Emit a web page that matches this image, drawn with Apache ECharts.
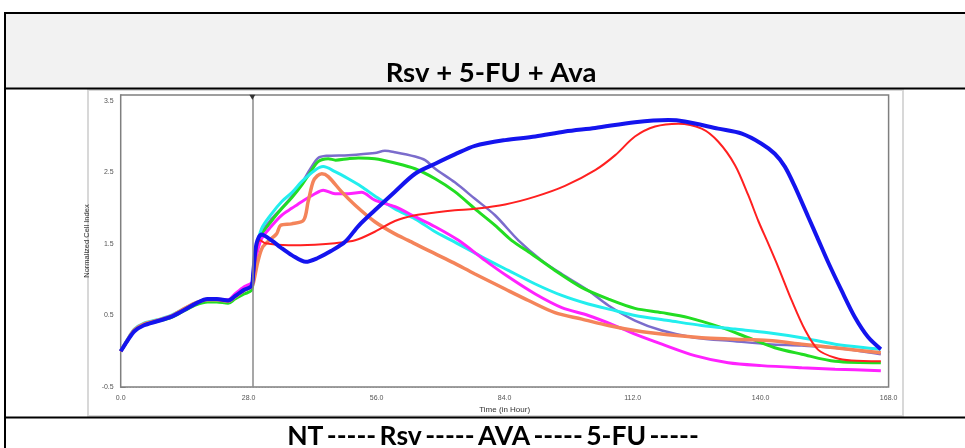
<!DOCTYPE html>
<html>
<head>
<meta charset="utf-8">
<script src="https://cdn.jsdelivr.net/npm/echarts/dist/echarts.min.js"></script>
<style>
html,body{margin:0;padding:0;background:#fff;}
#chart{width:965px;height:448px;}
</style>
</head>
<body>
<div id="chart"></div>
<script>
// ---------- data (Time in hours, Normalized Cell Index) ----------
const titleText = 'Rsv + 5-FU + Ava';
const xTickLabels = ['0.0','28.0','56.0','84.0','112.0','140.0','168.0'];
const yTickLabels = ['-0.5','0.5','1.5','2.5','3.5'];
const treatmentTime = 28.8;
const legendItems = ['NT','Rsv','AVA','5-FU'];
const legendColors = ['#ff2020','#33ff33','#1a1aff','#ff33ff'];

const redSeries = [[0,0.0],[1.5,0.16],[3,0.29],[5,0.37],[8,0.43],[11,0.49],[14,0.59],[16.5,0.67],[19,0.72],[21,0.72],[23.5,0.70],[25,0.76],[27,0.85],[28.6,0.90],
  [29,1.0],[29.8,1.45],[30.5,1.55],[31.6,1.51],[36.7,1.48],[42.5,1.49],[46.9,1.51],[51.3,1.55],[55.6,1.67],[60,1.82],[64.4,1.90],[68.8,1.94],[73.1,1.97],[77.5,1.99],[84.1,2.05],[90.7,2.16],[97.2,2.31],[103.8,2.53],[108.2,2.74],[112.5,3.0],[116.9,3.14],[122,3.18],[127.1,3.11],[130.7,2.93],[134.4,2.60],[137.3,2.18],[139.5,1.82],[141.7,1.50],[143.9,1.17],[146.8,0.71],[149.7,0.30],[152.6,0.02],[156.3,-0.09],[159.9,-0.13],[166.3,-0.14]];
const blueSeries = [[0,0.0],[1.5,0.15],[3,0.28],[5,0.36],[8,0.42],[11,0.48],[14,0.58],[16.5,0.67],[19,0.73],[21,0.73],[23.5,0.71],[25,0.77],[27,0.86],[28.6,0.91],
  [29,1.1],[29.7,1.5],[30.8,1.63],[33,1.55],[35,1.45],[37.5,1.34],[40.5,1.25],[43,1.30],[46,1.40],[49.1,1.53],[52,1.75],[55.6,1.97],[60,2.23],[64.4,2.48],[68.8,2.62],[73.1,2.75],[77.5,2.87],[84.1,2.95],[90.7,3.0],[97.2,3.07],[103.8,3.12],[112.5,3.2],[119.8,3.23],[123.4,3.21],[130.7,3.11],[135.9,3.04],[140.2,2.90],[143.1,2.76],[145.3,2.58],[147.5,2.30],[150.4,1.88],[152.6,1.56],[154.8,1.24],[157.7,0.85],[160.6,0.48],[163.5,0.20],[166.3,0.03]];
const greenSeries = [[0,0.0],[1.5,0.15],[3,0.29],[5,0.37],[8,0.42],[11,0.47],[14,0.57],[16.5,0.65],[19,0.69],[21,0.69],[23.5,0.67],[25,0.73],[27,0.80],[28.6,0.85],
  [29,1.0],[29.6,1.35],[30.8,1.62],[33,1.82],[35.2,1.99],[37.5,2.15],[39.6,2.32],[41.5,2.50],[43.2,2.65],[45.4,2.69],[47,2.67],[49.8,2.69],[52,2.70],[55.6,2.69],[60,2.63],[64.4,2.55],[68.8,2.41],[73.1,2.23],[77.5,1.99],[81.9,1.76],[85.5,1.55],[89.9,1.36],[95,1.13],[100.9,0.89],[106.7,0.73],[112.5,0.60],[118.4,0.54],[124.2,0.47],[131.5,0.33],[137.3,0.19],[143.1,0.05],[149,-0.04],[156.3,-0.14],[166.3,-0.16]];
const purpleSeries = [[0,0.0],[1.5,0.15],[3,0.28],[5,0.36],[8,0.42],[11,0.48],[14,0.58],[16.5,0.67],[19,0.73],[21,0.73],[23.5,0.71],[25,0.77],[27,0.86],[28.6,0.91],
  [29,1.0],[29.6,1.35],[30.8,1.65],[33,1.85],[35.2,2.0],[37.5,2.17],[39.6,2.35],[41.5,2.55],[43.2,2.70],[45,2.73],[49.8,2.74],[55.6,2.77],[57.8,2.80],[60,2.78],[64.4,2.72],[66.6,2.67],[68.8,2.55],[73.1,2.36],[77.5,2.13],[81.9,1.90],[87,1.55],[92.1,1.27],[96.5,1.08],[102.3,0.85],[106.7,0.64],[112.5,0.43],[118.4,0.29],[125.6,0.19],[134.4,0.14],[141.7,0.10],[149,0.08],[156.3,0.05],[166.3,-0.04]];
const cyanSeries = [[0,0.0],[1.5,0.17],[3,0.31],[5,0.39],[8,0.44],[11,0.50],[14,0.60],[16.5,0.68],[19,0.72],[21,0.72],[23.5,0.70],[25,0.76],[27,0.85],[28.6,0.90],
  [29,1.05],[29.6,1.4],[30.8,1.71],[33,1.92],[35.2,2.09],[37.5,2.22],[39.6,2.37],[42.5,2.53],[44.3,2.58],[46.9,2.51],[49.8,2.41],[52.7,2.30],[55.6,2.17],[60,1.99],[64.4,1.85],[68.8,1.67],[72.4,1.55],[79,1.32],[84.8,1.13],[90.7,0.94],[96.5,0.78],[102.3,0.66],[108.1,0.57],[112.5,0.50],[119.8,0.43],[127.1,0.36],[134.4,0.31],[141.7,0.26],[149,0.19],[156.3,0.10],[166.3,0.03]];
const magentaSeries = [[0,0.0],[1.5,0.15],[3,0.29],[5,0.37],[8,0.43],[11,0.49],[14,0.59],[16.5,0.67],[19,0.73],[21,0.73],[23.5,0.72],[25,0.80],[27,0.90],[28.6,0.95],
  [29,1.0],[29.6,1.3],[30.8,1.57],[33,1.75],[35.2,1.90],[37.5,2.0],[39.6,2.09],[42.5,2.20],[44.3,2.25],[46.9,2.20],[49.8,2.20],[52.7,2.22],[55.6,2.11],[60,2.02],[64.4,1.88],[68.8,1.74],[73.9,1.55],[79.7,1.27],[84.8,1.04],[90.7,0.80],[96.5,0.61],[102.3,0.50],[108.1,0.36],[112.5,0.24],[118.4,0.10],[125.6,-0.06],[132.9,-0.16],[140.2,-0.20],[149,-0.23],[156.3,-0.25],[166.3,-0.27]];
const orangeSeries = [[0,0.0],[1.5,0.16],[3,0.30],[5,0.38],[8,0.43],[11,0.49],[14,0.60],[16.5,0.68],[19,0.72],[21,0.72],[23.5,0.70],[25,0.76],[27,0.85],[28.6,0.90],
  [29,0.95],[30,1.25],[31,1.45],[32.5,1.55],[34.1,1.64],[35,1.76],[37.4,1.78],[40,1.83],[41,2.09],[42.1,2.37],[43,2.45],[44,2.48],[45.4,2.44],[48.3,2.23],[51.3,2.04],[55.6,1.81],[60,1.64],[62.9,1.55],[66.6,1.43],[72.4,1.25],[77.5,1.08],[84.1,0.87],[89.2,0.71],[95,0.54],[100.9,0.45],[106.7,0.36],[112.5,0.29],[119.8,0.23],[127.1,0.19],[134.4,0.17],[141.7,0.15],[149,0.10],[156.3,0.05],[166.3,-0.02]];

// ---------- chart ----------
const chart = echarts.init(document.getElementById('chart'), null, {renderer:'canvas'});
const FONT = 'Lato';

function mk(name, data, color, width) {
  return {name:name, type:'line', data:data, smooth:0.3, showSymbol:false, symbol:'none',
    lineStyle:{color:color, width:width}, itemStyle:{color:color}, z:3, silent:true};
}

const series = [
  mk('purple', purpleSeries, '#7b6ccc', 2.5),
  mk('green', greenSeries, '#22dd22', 3),
  mk('cyan', cyanSeries, '#22eeee', 3),
  mk('magenta', magentaSeries, '#ff22ff', 3),
  mk('orange', orangeSeries, '#f4845a', 3.5),
  mk('red', redSeries, '#ff2020', 2),
  mk('blue', blueSeries, '#1414ee', 4)
];
series[0].markLine = {silent:true, symbol:['none','none'], label:{show:false},
  lineStyle:{color:'#8a8a8a', width:1.5, type:'solid'}, data:[{xAxis:treatmentTime}]};
series[0].markPoint = {silent:true, symbol:'triangle', symbolRotate:180, symbolSize:[6,5],
  itemStyle:{color:'#333'}, label:{show:false}, data:[{coord:[treatmentTime, 3.55]}]};

const LEG_FS = 26.5;
const rich = {
  b:{fontFamily:FONT, fontWeight:'bold', fontSize:LEG_FS, color:'#000'}
};
legendColors.forEach((c,i)=>{ rich['d'+i] = {fontFamily:FONT, fontWeight:'bold', fontSize:LEG_FS, color:c}; });
const legendStr = legendItems.map((t,i)=>'{b|'+t+'} {d'+i+'|-----}').join(' ');

const option = {
  animation:false,
  backgroundColor:'#ffffff',
  graphic:[
    {type:'rect', shape:{x:6, y:14, width:960, height:74}, style:{fill:'#f2f2f2'}, z:0},
    {type:'rect', shape:{x:88, y:90, width:815, height:326}, style:{fill:'#ffffff', stroke:'#d8d8d8', lineWidth:2}, z:0},
    {type:'line', shape:{x1:4, y1:13, x2:965, y2:13}, style:{stroke:'#000', lineWidth:2}, z:5},
    {type:'line', shape:{x1:5, y1:12, x2:5, y2:448}, style:{stroke:'#000', lineWidth:2}, z:5},
    {type:'line', shape:{x1:4, y1:88.5, x2:965, y2:88.5}, style:{stroke:'#000', lineWidth:2}, z:5},
    {type:'line', shape:{x1:4, y1:417.5, x2:965, y2:417.5}, style:{stroke:'#000', lineWidth:2}, z:5},
    {type:'text', x:491, y:73, z:5, style:{text:titleText, font:'bold 27.5px '+FONT, fill:'#000', textAlign:'center', textVerticalAlign:'middle'}},
    {type:'text', x:493, y:436, z:5, style:{text:legendStr, rich:rich, textAlign:'center', textVerticalAlign:'middle'}}
  ],
  grid:{left:120.7, right:76.4, top:95, bottom:60.9, show:true, backgroundColor:'#fff', borderColor:'#7f7f7f', borderWidth:1.5, z:1},
  xAxis:[{
    type:'value', min:0, max:168, interval:28,
    name:'Time (in Hour)', nameLocation:'middle', nameGap:18,
    nameTextStyle:{fontFamily:'Liberation Sans', fontSize:8, color:'#333'},
    axisLine:{show:true, lineStyle:{color:'#7f7f7f', width:1.5}},
    axisTick:{show:true, inside:true, length:5, lineStyle:{color:'#7f7f7f'}},
    minorTick:{show:true, splitNumber:10, length:3, lineStyle:{color:'#7f7f7f'}},
    axisLabel:{fontFamily:'Liberation Sans', fontSize:7, color:'#555', margin:7,
      formatter:function(v){ const i=Math.round(v/28); return (Math.abs(v-i*28)<1e-6 && xTickLabels[i]) ? xTickLabels[i] : ''; }},
    splitLine:{show:true, lineStyle:{color:'#b8b8b8', type:[1,2], width:1}}
  },{
    type:'value', min:0, max:168, interval:28, position:'top',
    axisLine:{show:false}, axisLabel:{show:false}, splitLine:{show:false},
    axisTick:{show:true, inside:true, length:5, lineStyle:{color:'#7f7f7f'}},
    minorTick:{show:true, splitNumber:10, length:3, lineStyle:{color:'#7f7f7f'}}
  }],
  yAxis:{
    type:'value', min:-0.5, max:3.58, interval:1,
    name:'Normalized Cell Index', nameLocation:'middle', nameGap:16,
    nameTextStyle:{fontFamily:'Liberation Sans', fontSize:7.5, color:'#333'},
    axisLine:{show:true, lineStyle:{color:'#7f7f7f', width:1.5}},
    axisTick:{show:true, inside:true, length:5, lineStyle:{color:'#7f7f7f'}},
    minorTick:{show:true, splitNumber:10, length:3, lineStyle:{color:'#7f7f7f'}},
    axisLabel:{fontFamily:'Liberation Sans', fontSize:7, color:'#555', margin:7,
      formatter:function(v){ const s=v.toFixed(1); return yTickLabels.indexOf(s)>=0 ? s : ''; }},
    splitLine:{show:true, lineStyle:{color:'#b8b8b8', type:[1,2], width:1}}
  },
  series:series
};
chart.setOption(option);
</script>
</body>
</html>
